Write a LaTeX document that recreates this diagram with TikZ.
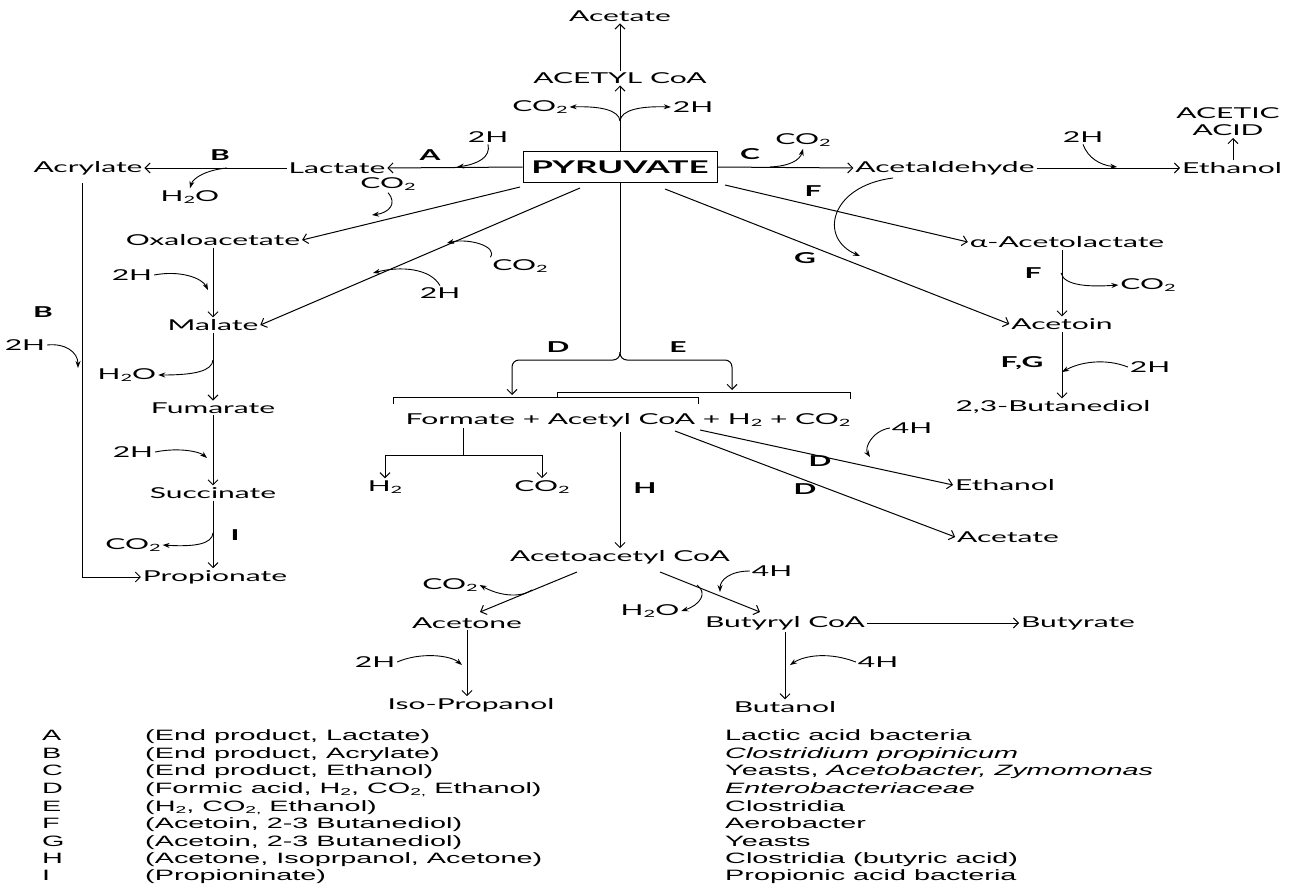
\documentclass[tikz,border=0pt]{standalone}
\usepackage{fontspec}
\usetikzlibrary{arrows.meta}
\newfontfamily\dfont[FakeStretch=2.0]{Lato}
\newfontfamily\lfont[FakeStretch=1.92]{Liberation Sans}
\newcommand\sub[1]{\raisebox{-0.35ex}{\fontsize{10pt}{10pt}\selectfont #1}}
\begin{document}
\begin{tikzpicture}[x=1pt,y=-1pt,
 txt/.style={font=\dfont\fontsize{15pt}{17pt}\selectfont, inner sep=2pt, outer sep=0pt},
 lbl/.style={font=\dfont\bfseries\fontsize{15pt}{17pt}\selectfont, inner sep=1pt},
 leg/.style={font=\lfont\fontsize{15pt}{17.5pt}\selectfont, anchor=base west, inner sep=0pt},
 ln/.style={line width=1pt},
 arr/.style={line width=1pt, -{Straight Barb[length=5pt,width=10pt,line width=1pt]}},
 carr/.style={line width=0.9pt, -{Stealth[length=7pt,width=5pt]}}]
\useasboundingbox (0,0) rectangle (1290,888);

% ---------- top centre ----------
\node[txt] (acetateTop) at (620,16) {Acetate};
\node[txt] (acetylcoa) at (620,78) {ACETYL CoA};
\node[draw, line width=1pt, minimum width=194pt, minimum height=31pt, inner sep=0pt,
      font=\dfont\bfseries\fontsize{17.5pt}{19pt}\selectfont] (pyr) at (620,167) {PYRUVATE};
\node[txt] (co2a) at (540,107) {CO\sub{2}};
\node[txt] (h2a) at (693,107) {2H};
\coordinate (br1) at (620,121);
\draw[arr] (acetylcoa.north) -- (acetateTop.south);
\draw[arr] (pyr.north) -- (acetylcoa.south);
\draw[carr] (br1) .. controls (619,110) and (600,106) .. (co2a.east);
\draw[carr] (br1) .. controls (621,110) and (640,106) .. (h2a.west);

% ---------- left branch ----------
\node[txt] (lactate) at (337,168) {Lactate};
\node[txt] (acrylate) at (88,168) {Acrylate};
\node[lbl] (lblA) at (430,155) {A};
\node[txt] (h2b) at (488,137) {2H};
\node[lbl] (lblB1) at (220,155) {B};
\node[txt] (h2o1) at (190,197) {H\sub{2}O};
\node[txt] (co2b) at (388,184) {CO\sub{2}};
\node[txt] (oxalo) at (213,240) {Oxaloacetate};
\node[txt] (co2c) at (520,266) {CO\sub{2}};
\node[txt] (h2c) at (440,293) {2H};
\node[txt] (h2d) at (132,275) {2H};
\node[txt] (malate) at (213,325) {Malate};
\node[txt] (h2o2) at (127,375) {H\sub{2}O};
\node[txt] (fumarate) at (213,408) {Fumarate};
\node[txt] (h2e) at (133,452) {2H};
\node[txt] (succinate) at (213,493) {Succinate};
\node[txt] (co2d) at (133,545) {CO\sub{2}};
\node[lbl] (lblI) at (235,535) {I};
\node[txt] (propionate) at (215,577) {Propionate};
\node[lbl] (lblB2) at (43,312) {B};
\node[txt] (h2f) at (25,345) {2H};

\coordinate (pA) at (457,167);
\coordinate (pB) at (227,168);
\coordinate (pox1) at (520,187);
\coordinate (pox2) at (372,215);
\coordinate (pm1) at (580,188);
\coordinate (pm2) at (447,243);
\coordinate (pm3) at (373,273);
\coordinate (ox1) at (208,290);
\coordinate (ma1) at (213,360);
\coordinate (fu1) at (207,458);
\coordinate (su1) at (213,533);
\coordinate (ac1) at (82,183);
\coordinate (ac2) at (78,368);

\draw[arr] (pyr.west) -- (lactate.east);
\draw[arr] (lactate.west) -- (acrylate.east);
\draw[carr] (h2b.south) .. controls (491,157) and (478,164) .. (pA);
\draw[carr] (pB) .. controls (206,170) and (193,178) .. (h2o1.north);
\draw[carr] (co2b.south) .. controls (398,204) and (388,213) .. (pox2);
\draw[arr] (pox1) -- (oxalo.east);
\draw[arr] (pm1) -- (malate.east);
\draw[carr] (co2c.north west) .. controls (498,246) and (468,238) .. (pm2);
\draw[carr] (h2c.north) .. controls (430,268) and (400,266) .. (pm3);
\draw[carr] (h2d.east) .. controls (180,270) and (202,278) .. (ox1);
\draw[arr] (oxalo.south) -- (malate.north);
\draw[arr] (malate.south) -- (fumarate.north);
\draw[carr] (ma1) .. controls (212,371) and (195,375) .. (h2o2.east);
\draw[carr] (h2e.east) .. controls (180,447) and (200,452) .. (fu1);
\draw[arr] (fumarate.south) -- (succinate.north);
\draw[arr] (succinate.south) -- (succinate.south |- propionate.north);
\draw[carr] (su1) .. controls (212,544) and (195,547) .. (co2d.east);
\draw[arr] (ac1) |- (propionate.west);
\draw[carr] (h2f.east) .. controls (65,343) and (78,352) .. (ac2);

% ---------- right branch ----------
\node[lbl] (lblC) at (750,154) {C};
\node[txt] (co2e) at (803,140) {CO\sub{2}};
\node[txt] (acetald) at (945,168) {Acetaldehyde};
\node[txt] (h2g) at (1083,137) {2H};
\node[txt] (ethanolR) at (1232,168) {Ethanol};
\node[txt, align=center] (acetic) at (1228,122) {ACETIC\\ACID};
\node[lbl] (lblF1) at (813,191) {F};
\node[txt] (alphaAL) at (1067,242) {α-Acetolactate};
\node[lbl] (lblG) at (805,258) {G};
\node[lbl] (lblF2) at (1033,273) {F};
\node[txt] (co2f) at (1148,285) {CO\sub{2}};
\node[txt] (acetoin) at (1062,324) {Acetoin};
\node[lbl] (lblFG) at (1022,363) {F,G};
\node[txt] (h2h) at (1150,367) {2H};
\node[txt] (butanediol) at (1053,407) {2,3-Butanediol};

\coordinate (pc1) at (770,167);
\coordinate (pg1) at (1117,167);
\coordinate (pf1) at (725,185);
\coordinate (pg0) at (665,189);
\coordinate (ad1) at (893,178);
\coordinate (pg2) at (860,256);
\coordinate (af1) at (1061,273);
\coordinate (at1) at (1062,372);

\draw[arr] (pyr.east) -- (acetald.west);
\draw[carr] (pc1) .. controls (790,166) and (800,160) .. (co2e.south);
\draw[arr] (acetald.east) -- (ethanolR.west);
\draw[carr] (h2g.south) .. controls (1088,158) and (1100,165) .. (pg1);
\draw[arr] (ethanolR.north -| 1233,0) -- (acetic.south -| 1233,0);
\draw[arr] (pf1) -- (alphaAL.west);
\draw[arr] (pg0) -- (acetoin.west);
\draw[carr] (ad1) .. controls (830,186) and (818,238) .. (pg2);
\draw[arr] (alphaAL.south -| acetoin) -- (acetoin.north);
\draw[carr] (af1) .. controls (1064,286) and (1090,287) .. (co2f.west);
\draw[arr] (acetoin.south -| acetoin) -- (butanediol.north -| acetoin);
\draw[carr] (h2h.west) .. controls (1105,358) and (1080,362) .. (at1);

% ---------- middle ----------
\node[lbl] (lblD) at (558,347) {D};
\node[lbl] (lblE) at (678,347) {E};
\node[txt] (mix) at (628,420) {Formate + Acetyl CoA + H\sub{2} + CO\sub{2}};
\node[txt] (h2m) at (385,487) {H\sub{2}};
\node[txt] (co2m) at (542,487) {CO\sub{2}};
\node[lbl] (lblH) at (645,488) {H};
\node[txt] (ethanolM) at (1005,485) {Ethanol};
\node[lbl] (lblD2) at (820,461) {D};
\node[txt] (h4a) at (912,428) {4H};
\node[txt] (acetateM) at (1008,537) {Acetate};
\node[lbl] (lblD3) at (805,489) {D};

\coordinate (br2) at (620,352);
\coordinate (fm1) at (463,428);
\coordinate (fm2) at (463,455);
\coordinate (ac0) at (620,432);
\coordinate (de1) at (700,430);
\coordinate (de2) at (675,431);
\coordinate (e4) at (870,457);

\draw[ln] (pyr.south) -- (br2);
\draw[arr, rounded corners=7pt] (br2) |- (512,360) -- (512,395);
\draw[arr, rounded corners=7pt] (br2) |- (732,360) -- (732,390);
\draw[ln] (393,404) -- (393,397) -- (698,397) -- (698,404);
\draw[ln] (557,397) -- (557,392) -- (850,392) -- (850,399);
\draw[ln] (fm1) -- (fm2);
\draw[arr] (fm2) -| (h2m.north);
\draw[arr] (fm2) -| (co2m.north);
\node[txt] (acetoacetyl) at (620,557) {Acetoacetyl CoA};
\draw[arr] (ac0) -- (acetoacetyl.north);
\draw[arr] (de1) -- (ethanolM.west);
\draw[arr] (de2) -- (acetateM.west);
\draw[carr] (h4a.west) .. controls (872,431) and (864,448) .. (e4);

% ---------- bottom ----------
\node[txt] (co2g) at (450,585) {CO\sub{2}};
\node[txt] (acetone) at (467,623) {Acetone};
\node[txt] (h4b) at (772,571) {4H};
\node[txt] (h2o3) at (650,611) {H\sub{2}O};
\node[txt] (butyryl) at (785,623) {Butyryl CoA};
\node[txt] (butyrate) at (1078,623) {Butyrate};
\node[txt] (h2i) at (375,662) {2H};
\node[txt] (isoprop) at (471,705) {Iso-Propanol};
\node[txt] (h4c) at (878,662) {4H};
\node[txt] (butanol) at (785,707) {Butanol};

\coordinate (aa1) at (577,572);
\coordinate (aa2) at (660,572);
\coordinate (aa3) at (480,612);
\coordinate (aa4) at (760,612);
\coordinate (cg1) at (532,590);
\coordinate (hb1) at (720,592);
\coordinate (ho1) at (697,585);
\coordinate (hi1) at (462,665);
\coordinate (hc1) at (790,665);

\draw[arr] (aa1) -- (aa3);
\draw[carr] (cg1) .. controls (520,598) and (500,596) .. (co2g.east);
\draw[arr] (aa2) -- (aa4);
\draw[carr] (h4b.west) .. controls (730,571) and (720,580) .. (hb1);
\draw[carr] (ho1) .. controls (708,593) and (700,605) .. (h2o3.east);
\draw[arr] (butyryl.east) -- (butyrate.west);
\draw[arr] (acetone.south) -- (acetone.south |- isoprop.north);
\draw[carr] (h2i.east) .. controls (420,652) and (450,655) .. (hi1);
\draw[arr] (butyryl.south -| butanol) -- (butanol.north);
\draw[carr] (h4c.west) .. controls (830,652) and (805,655) .. (hc1);

% ---------- legend ----------
\foreach \n/\l/\y/\a/\b in {
 lgA/A/740/{(End product, Lactate)}/{Lactic acid bacteria},
 lgB/B/758/{(End product, Acrylate)}/{\itshape Clostridium propinicum},
 lgC/C/775/{(End product, Ethanol)}/{Yeasts, \itshape Acetobacter, Zymomonas},
 lgD/D/793/{(Formic acid, H\sub{2}, CO\sub{2,} Ethanol)}/{\itshape Enterobacteriaceae},
 lgE/E/811/{(H\sub{2}, CO\sub{2,} Ethanol)}/{Clostridia},
 lgF/F/828/{(Acetoin, 2-3 Butanediol)}/{Aerobacter},
 lgG/G/846/{(Acetoin, 2-3 Butanediol)}/{Yeasts},
 lgH/H/863/{(Acetone, Isoprpanol, Acetone)}/{Clostridia (butyric acid)},
 lgI/I/880/{(Propioninate)}/{Propionic acid bacteria}}{
 \node[leg] (\n l) at (42,\y) {\l};
 \node[leg] (\n a) at (145,\y) {\a};
 \node[leg] (\n b) at (725,\y) {\b};
}
\end{tikzpicture}
\end{document}
